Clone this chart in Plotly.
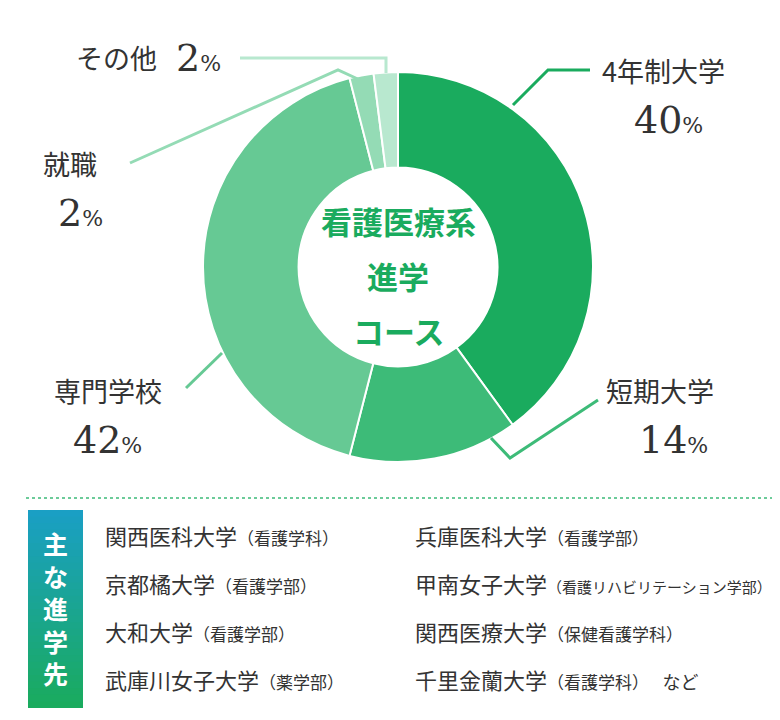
import plotly.graph_objects as go

categories = ["4年制大学", "短期大学", "専門学校", "就職", "その他"]
values = [40, 14, 42, 2, 2]
colors = ["#1aab5e", "#3dbb78", "#66c994", "#94dbb5", "#b8e8cf"]
schools_left = ["関西医科大学<span style='font-size:17px'>（看護学科）</span>",
                "京都橘大学<span style='font-size:17px'>（看護学部）</span>",
                "大和大学<span style='font-size:17px'>（看護学部）</span>",
                "武庫川女子大学<span style='font-size:17px'>（薬学部）</span>"]
schools_right = ["兵庫医科大学<span style='font-size:17px'>（看護学部）</span>",
                 "甲南女子大学<span style='font-size:15px'>（看護リハビリテーション学部）</span>",
                 "関西医療大学<span style='font-size:17px'>（保健看護学科）</span>",
                 "千里金蘭大学<span style='font-size:17px'>（看護学科）</span>　<span style='font-size:18px'>など</span>"]

W, H = 780, 720
def px(x): return x / W
def py(y): return 1 - y / H

fig = go.Figure(go.Pie(
    labels=categories, values=values, sort=False, direction="clockwise",
    hole=0.51, marker=dict(colors=colors, line=dict(color="white", width=2)),
    textinfo="none", showlegend=False,
    domain=dict(x=[px(195), px(585)], y=[py(454), py(64)])))

font = "Noto Sans CJK JP"
txt = "#333333"
ann = []
def a(x, y, t, size, color=txt, xanchor="center", family=font):
    ann.append(dict(x=px(x), y=py(y), xref="paper", yref="paper", text=t, showarrow=False,
                    font=dict(size=size, color=color, family=family),
                    xanchor=xanchor, yanchor="middle"))

def pct(v):
    return f"{v}<span style='font-size:22px'>%</span>"

serif = "DejaVu Serif"
a(655, 62, categories[0], 27)
a(660, 112, pct(values[0]), 38, family=serif)
a(652, 382, categories[1], 27)
a(665, 432, pct(values[1]), 38, family=serif)
a(100, 382, categories[2], 27)
a(100, 432, pct(values[2]), 38, family=serif)
a(62, 155, categories[3], 27)
a(72, 205, pct(values[3]), 38, family=serif)
a(108, 50, categories[4], 27)
a(190, 50, pct(values[4]), 38, family=serif)

g = "#1aab5e"
a(390, 212, "<b>看護医療系</b>", 31, color=g)
a(390, 267, "<b>進学</b>", 31, color=g)
a(390, 322, "<b>コース</b>", 31, color=g)

for i, s in enumerate(schools_left):
    a(95, 527 + i * 48, s, 22, xanchor="left")
for i, s in enumerate(schools_right):
    a(405, 527 + i * 48, s, 22, xanchor="left")

shapes = []
def line(pts, color):
    path = "M " + " L ".join(f"{px(x)},{py(y)}" for x, y in pts)
    shapes.append(dict(type="path", path=path, xref="paper", yref="paper",
                       line=dict(color=color, width=3)))
line([(505, 97), (540, 62), (582, 62)], colors[0])
line([(483, 430), (502, 450), (590, 392)], colors[1])
line([(214, 345), (178, 380)], colors[2])
line([(352, 72), (330, 62), (122, 155)], colors[3])
line([(232, 50), (378, 50), (378, 65)], colors[4])

shapes.append(dict(type="line", xref="paper", yref="paper", x0=px(18), x1=px(765),
                   y0=py(490), y1=py(490), line=dict(color="#3dbb78", width=1.5, dash="dot")))
# gradient tag box (teal top -> green bottom)
n = 30
top, bot = 502, 700
c0, c1 = (26, 159, 196), (26, 171, 94)
for i in range(n):
    t = i / (n - 1)
    c = tuple(round(c0[k] + (c1[k] - c0[k]) * t) for k in range(3))
    y0 = top + (bot - top) * i / n
    y1 = top + (bot - top) * (i + 1) / n + 0.8
    shapes.append(dict(type="rect", xref="paper", yref="paper", x0=px(20), x1=px(75),
                       y0=py(min(y1, bot)), y1=py(y0), line=dict(width=0),
                       fillcolor=f"rgb{c}"))
a(47, 600, "<b>主<br>な<br>進<br>学<br>先</b>", 25, color="white")

fig.update_layout(width=W, height=H, margin=dict(l=0, r=0, t=0, b=0),
                  paper_bgcolor="white", plot_bgcolor="white",
                  annotations=ann, shapes=shapes)
fig.write_html("out.html")
